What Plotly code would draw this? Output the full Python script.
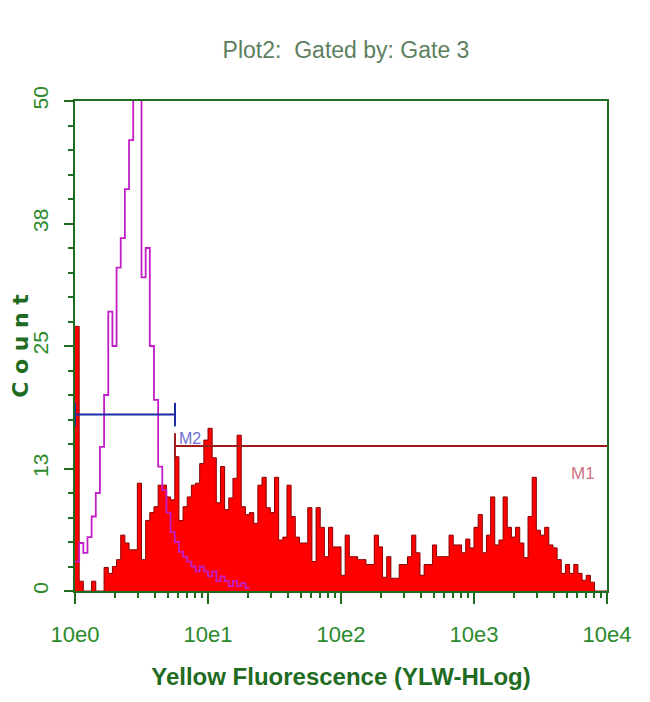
import numpy as np
import plotly.graph_objects as go

# ---- data (counts per channel, 128 log channels over 4 decades) ----
channel_width = 4 / 128  # decades per channel

gated_counts = [
    27, 1, 0, 0, 1, 0, 0, 2.4, 1.8, 2.5, 3.2, 5.7, 4.9, 4.2, 4.2, 11,
    3.2, 7.2, 8, 8.6, 10.8, 10.8, 9.6, 9.3, 13.7, 7.2, 8.6, 9.6, 10.8, 11, 13, 15.4,
    16.6, 13.6, 9, 12.7, 8.3, 9.5, 11.5, 15.9, 8.6, 7.8, 8, 6.9, 10.8, 11.6, 8.5, 8,
    11.6, 5.2, 5.5, 10.8, 7.6, 5.5, 4.9, 4.9, 8.5, 3, 8.5, 6.5, 3.5, 6.5, 4.5, 4.5,
    1.6, 5.7, 3.5, 3.5, 3.2, 3.2, 2.7, 2.7, 5.7, 4.5, 1.4, 3.5, 1.3, 1.3, 2.7, 2.7,
    3.5, 5.7, 3.9, 1.6, 2.7, 2.7, 4.7, 3.5, 3.5, 3.5, 5.7, 4.7, 4.7, 3.9, 5.3, 4.4,
    6.5, 7.8, 3.9, 5.7, 9.6, 4.7, 5.2, 9.6, 6.5, 5.5, 6.5, 4.9, 3.4, 7.6, 11.6, 6.2,
    5.7, 6.5, 4.7, 4.4, 3.2, 1.8, 2.7, 1.8, 2.7, 1.8, 1.1, 1.6, 0.9, 0, 0, 0,
]

control_counts = [
    3, 4.9, 3.9, 5.5, 7.6, 10, 14.7, 20, 28.5, 25, 33, 36, 41, 46, 55, 52,
    32, 35, 25, 19.5, 12.7, 10.3, 8, 6, 5, 4, 3.5, 3, 2.5, 2, 2.5, 2,
    1.5, 2, 1, 1.5, 1, 0.5, 1, 0.5, 0.8, 0.3,
]

# gate markers: (start, end, level)
m2_gate = [1.0, 5.65, 18.0]
m1_gate = [5.65, 10000.0, 14.8]

x_tickvals = [1, 10, 100, 1000, 10000]
x_ticktext = ["10e0", "10e1", "10e2", "10e3", "10e4"]
y_tickvals = [0, 12.5, 25, 37.5, 50]
y_ticktext = ["0", "13", "25", "38", "50"]

GREEN = "#2b8a2b"
DARK_GREEN = "#1f6b1f"
FONT = "Liberation Sans Narrow, Liberation Sans, Arial, sans-serif"


def step_xy(counts):
    n = len(counts)
    edges = 10 ** (np.arange(n + 1) * channel_width)
    ys = list(counts) + [counts[-1]]
    return edges, ys


fig = go.Figure()

gx, gy = step_xy(gated_counts)
fig.add_trace(go.Scatter(
    x=gx, y=gy, mode="lines", line=dict(shape="hv", color="#8a0000", width=1),
    fill="tozeroy", fillcolor="#ff0000", hoverinfo="skip", showlegend=False,
))

cx, cy = step_xy(control_counts)
fig.add_trace(go.Scatter(
    x=cx, y=cy, mode="lines", line=dict(shape="hv", color="#c21ec8", width=1.8),
    hoverinfo="skip", showlegend=False,
))

# M2 marker (blue)
fig.add_trace(go.Scatter(
    x=[m2_gate[0], m2_gate[1]], y=[m2_gate[2], m2_gate[2]], mode="lines",
    line=dict(color="#1c2aa8", width=2), hoverinfo="skip", showlegend=False,
))
for xv in (m2_gate[0], m2_gate[1]):
    fig.add_trace(go.Scatter(
        x=[xv, xv], y=[m2_gate[2] - 1.2, m2_gate[2] + 1.2], mode="lines",
        line=dict(color="#1c2aa8", width=2), hoverinfo="skip", showlegend=False,
    ))

# M1 marker (red)
fig.add_trace(go.Scatter(
    x=[m1_gate[0], m1_gate[1]], y=[m1_gate[2], m1_gate[2]], mode="lines",
    line=dict(color="#a01a1a", width=2), hoverinfo="skip", showlegend=False,
))
fig.add_trace(go.Scatter(
    x=[m1_gate[0], m1_gate[0]], y=[m1_gate[2] - 1.3, m1_gate[2] + 1.3], mode="lines",
    line=dict(color="#a01a1a", width=2), hoverinfo="skip", showlegend=False,
))

fig.add_annotation(x=np.log10(7.3), y=15.6, text="M2", showarrow=False,
                   font=dict(family=FONT, size=16, color="#7070d0"))
fig.add_annotation(x=np.log10(6600), y=12.0, text="M1", showarrow=False,
                   font=dict(family=FONT, size=17, color="#d07080"))

fig.update_layout(
    width=650, height=702,
    margin=dict(l=67, r=51, t=93, b=119, autoexpand=False),
    paper_bgcolor="white", plot_bgcolor="white",
    title=dict(text="Plot2:  Gated by: Gate 3", x=0.52, xanchor="center", y=0.94, yanchor="middle",
               font=dict(family=FONT, size=23, color="#5e7f5e")),
    showlegend=False,
)

fig.update_xaxes(
    type="log", range=[0, 4],
    tickvals=x_tickvals, ticktext=x_ticktext,
    ticks="outside", ticklen=11, tickcolor=DARK_GREEN, tickwidth=1.5,
    ticklabelstandoff=12,
    minor=dict(ticks="outside", ticklen=5, tickcolor=DARK_GREEN, dtick="D1", showgrid=False),
    showline=True, linecolor=DARK_GREEN, linewidth=1.5, mirror=True,
    showgrid=False, zeroline=False,
    tickfont=dict(family=FONT, size=22, color=GREEN),
    title=dict(text="<b>Yellow Fluorescence (YLW-HLog)</b>", standoff=22,
               font=dict(family=FONT, size=24, color=DARK_GREEN)),
)

fig.update_yaxes(
    range=[0, 50],
    tickvals=y_tickvals, ticktext=y_ticktext, tickangle=-90,
    ticks="outside", ticklen=9, tickcolor=DARK_GREEN, tickwidth=1.5,
    ticklabelstandoff=8,
    minor=dict(ticks="outside", ticklen=5, tickcolor=DARK_GREEN, dtick=2.5, showgrid=False),
    showline=True, linecolor=DARK_GREEN, linewidth=1.5, mirror=True,
    showgrid=False, zeroline=False,
    tickfont=dict(family=FONT, size=21, color=GREEN),
    title=dict(text="<b>C o u n t</b>", standoff=0,
               font=dict(family="DejaVu Sans, sans-serif", size=22, color=DARK_GREEN)),
)

fig.write_html("out.html")
